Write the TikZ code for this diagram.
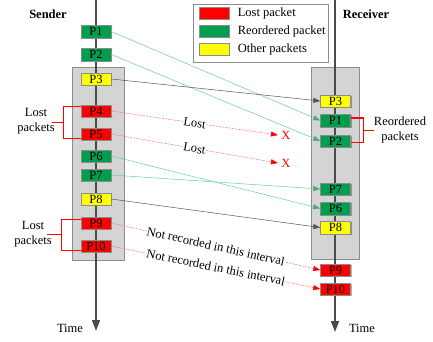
\documentclass[tikz,border=0pt]{standalone}
\usepackage{fontspec}
\setmainfont{Liberation Serif}
\usetikzlibrary{arrows.meta,shadows,calc}

\definecolor{lostred}{RGB}{255,0,0}
\definecolor{reordgreen}{RGB}{0,158,78}
\definecolor{otheryellow}{RGB}{255,255,0}
\definecolor{flowgreen}{RGB}{105,208,145}
\definecolor{flowgray}{RGB}{85,85,85}
\definecolor{dashred}{RGB}{250,110,110}
\definecolor{boxgray}{RGB}{212,212,212}
\definecolor{edgegray}{RGB}{140,140,140}
\definecolor{axisgray}{RGB}{75,75,75}

\tikzset{
  pkt/.style={draw=edgegray, line width=0.5pt, minimum width=30pt, minimum height=12.5pt,
    inner sep=0pt, drop shadow={shadow xshift=1pt, shadow yshift=-1pt, opacity=0.3, fill=black}},
  lostpkt/.style={pkt, fill=lostred},
  reordpkt/.style={pkt, fill=reordgreen},
  otherpkt/.style={pkt, fill=otheryellow},
  interval/.style={draw=edgegray, fill=boxgray, line width=0.6pt,
    drop shadow={shadow xshift=1.2pt, shadow yshift=-1.2pt, opacity=0.25, fill=black}},
  timeline/.style={draw=axisgray, line width=1.3pt, -{Triangle[length=11pt,width=8pt]}},
  flow/.style={line width=0.5pt, -{Triangle[length=7pt,width=5pt]}},
  greenflow/.style={flow, draw=flowgreen, -{Triangle[length=7pt,width=5pt,color=flowgreen!80!black]}},
  grayflow/.style={flow, draw=flowgray},
  lostflow/.style={line width=0.5pt, draw=dashred, dash pattern=on 2pt off 1.2pt,
    -{Triangle[length=7pt,width=5pt,color=lostred]}},
  onlabel/.style={sloped, fill=white, inner sep=0.3pt, text height=8.5pt, text depth=0.3pt},
  brk/.style={draw=lostred, line width=1.3pt},
  swatch/.style={draw=edgegray, line width=0.5pt, minimum width=30pt, minimum height=12pt, inner sep=0pt}
}

\begin{document}
\begin{tikzpicture}[x=1pt,y=-1pt,font=\fontsize{12.5}{15}\selectfont]

\useasboundingbox (0,0) rectangle (433,341);

% interval boxes
\node[interval, minimum width=52pt, minimum height=193pt] (sbox) at (98,163.5) {};
\node[interval, minimum width=48pt, minimum height=192pt] (rbox) at (335,163) {};

% time axes
\coordinate (sTop) at (96,0);
\coordinate (sEnd) at (96,331);
\coordinate (rTop) at (335,0);
\coordinate (rEnd) at (335,332);
\draw[timeline] (sTop) -- (sEnd);
\draw[timeline] (rTop) -- (rEnd);

\node[font=\fontsize{12.5}{15}\selectfont\bfseries] (sender) at (48,14) {Sender};
\node[font=\fontsize{12.5}{15}\selectfont\bfseries] (receiver) at (366,14) {Receiver};
\node (stime) at (70,328) {Time};
\node (rtime) at (362,328) {Time};

% legend
\node[draw=edgegray, fill=white, line width=0.6pt, minimum width=135pt, minimum height=58pt,
  drop shadow={shadow xshift=1.2pt, shadow yshift=-1.2pt, opacity=0.25, fill=black}] (legend) at (260.5,33) {};
\node[swatch, fill=lostred] (kLost) at (214,13) {};
\node[swatch, fill=reordgreen] (kReord) at (214,31) {};
\node[swatch, fill=otheryellow] (kOther) at (214,49) {};
\node[anchor=west, xshift=5pt] (tLost) at (kLost.east) {Lost packet};
\node[anchor=west, xshift=5pt] (tReord) at (kReord.east) {Reordered packet};
\node[anchor=west, xshift=5pt] (tOther) at (kOther.east) {Other packets};

% sender packets
\node[reordpkt] (s1) at (96,31.5) {P1};
\node[reordpkt] (s2) at (96,54.5) {P2};
\node[otherpkt] (s3) at (96,79) {P3};
\node[lostpkt] (s4) at (96,111) {P4};
\node[lostpkt] (s5) at (96,134) {P5};
\node[reordpkt] (s6) at (96,156) {P6};
\node[reordpkt] (s7) at (96,175) {P7};
\node[otherpkt] (s8) at (96,199) {P8};
\node[lostpkt] (s9) at (96,223) {P9};
\node[lostpkt] (s10) at (96,246) {P10};

% receiver packets
\node[otherpkt] (r3) at (335.5,101) {P3};
\node[reordpkt] (r1) at (335.5,120.5) {P1};
\node[reordpkt] (r2) at (335.5,141) {P2};
\node[reordpkt] (r7) at (335.5,189) {P7};
\node[reordpkt] (r6) at (335.5,208.5) {P6};
\node[otherpkt] (r8) at (335.5,227.5) {P8};
\node[lostpkt] (r9) at (335.5,270) {P9};
\node[lostpkt] (r10) at (335.5,289) {P10};

\node[text=lostred] (x4) at (286,135) {X};
\node[text=lostred] (x5) at (286,163) {X};

% transmissions
\draw[greenflow] (s1.east) -- (r1.west);
\draw[greenflow] (s2.east) -- (r2.west);
\draw[grayflow] (s3.east) -- (r3.west);
\draw[lostflow] (s4.east) -- node[onlabel] {Lost} (x4.west);
\draw[lostflow] (s5.east) -- node[onlabel] {Lost} (x5.west);
\draw[greenflow] (s6.east) -- (r6.west);
\draw[greenflow] (s7.east) -- (r7.west);
\draw[grayflow] (s8.east) -- (r8.west);
\draw[lostflow] (s9.east) -- node[onlabel] {Not recorded in this interval} (r9.west);
\draw[lostflow] (s10.east) -- node[onlabel] {Not recorded in this interval} (r10.west);

% brackets
\draw[brk] ($(s4.north west)+(0,2)$) -- ++(-17,0) |- ($(s5.south west)+(0,-2)$);
\draw[brk] ($(s4.north west)!0.5!(s5.south west)+(-17,0)$) -- ++(-12,0) coordinate (tickA);
\node[align=center] (lostA) at (36,121.5) {Lost\\packets};

\draw[brk] ($(s9.north west)+(0,3)$) -- ++(-19,0) |- ($(s10.south west)+(0,-2)$);
\draw[brk] ($(s9.north west)!0.5!(s10.south west)+(-19,0)$) -- ++(-15,0) coordinate (tickB);
\node[align=center] (lostB) at (33,234) {Lost\\packets};

\draw[brk] ($(r1.north east)+(0,4)$) -- ++(13,0) |- ($(r2.south east)+(0,-5)$);
\draw[brk] ($(r1.north east)!0.5!(r2.south east)+(13,0)$) -- ++(10,0) coordinate (tickC);
\node[align=center] (reordC) at (400,130) {Reordered\\packets};

\end{tikzpicture}
\end{document}
